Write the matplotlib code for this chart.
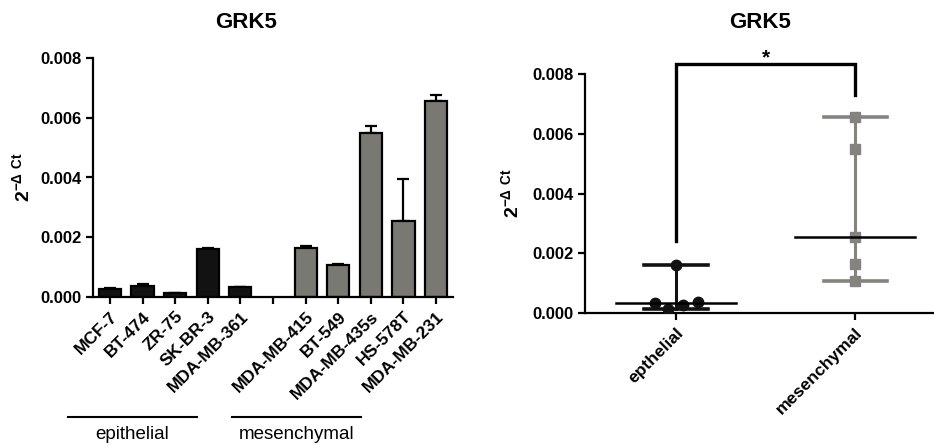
"""GRK5 expression across breast cancer cell lines: per-line bars and a grouped dot plot."""
import matplotlib
matplotlib.use("Agg")
import matplotlib.pyplot as plt
import matplotlib.transforms as mtransforms
import numpy as np

plt.rcParams["font.family"] = ["Liberation Sans", "DejaVu Sans"]
plt.rcParams["mathtext.fontset"] = "custom"
plt.rcParams["mathtext.rm"] = "Liberation Sans"
plt.rcParams["mathtext.bf"] = "Liberation Sans:bold"

# mean 2^-dCt per cell line, with SEM (upper bar only)
epi_lines = ["MCF-7", "BT-474", "ZR-75", "SK-BR-3", "MDA-MB-361"]
epi_vals = [0.00028, 0.00038, 0.00012, 0.00160, 0.00032]
epi_err = [0.00001, 0.00004, 0.00001, 0.00004, 0.00001]

mes_lines = ["MDA-MB-415", "BT-549", "MDA-MB-435s", "HS-578T", "MDA-MB-231"]
mes_vals = [0.00165, 0.00107, 0.00550, 0.00255, 0.00657]
mes_err = [0.00006, 0.00005, 0.00021, 0.00140, 0.00019]

group_names = ["epthelial", "mesenchymal"]
group_labels = ["epithelial", "mesenchymal"]
title = "GRK5"
ylabel = r"$\mathbf{2^{-\Delta\ Ct}}$"
yticks = [0.0, 0.002, 0.004, 0.006, 0.008]

EPI_C = "#121212"
MES_C = "#7a7872"
MES_DOT = "#858380"
LW = 1.6

fig = plt.figure(figsize=(9.34, 4.46), dpi=100)


def style_axis(ax, pad):
    for s in ("top", "right"):
        ax.spines[s].set_visible(False)
    for s in ("left", "bottom"):
        ax.spines[s].set_linewidth(LW)
    ax.tick_params(width=LW, length=5, labelsize=12)
    ax.set_ylim(0, 0.008)
    ax.set_yticks(yticks)
    ax.set_yticklabels([f"{t:.3f}" for t in yticks], fontweight="bold")
    ax.set_ylabel(ylabel, fontsize=14, labelpad=pad)


# ---- left: bar chart per cell line ----
ax1 = fig.add_axes([93 / 934, 149 / 446, 360 / 934, 239 / 446])
style_axis(ax1, 5)
epi_x = np.arange(len(epi_lines))
mes_x = np.arange(len(mes_lines)) + len(epi_lines) + 1
for xs, vals, errs, col in ((epi_x, epi_vals, epi_err, EPI_C),
                            (mes_x, mes_vals, mes_err, MES_C)):
    ax1.errorbar(xs, vals, yerr=[np.zeros(len(vals)), errs], fmt="none",
                 ecolor="black", elinewidth=LW, capsize=4.5, capthick=LW, zorder=1)
    ax1.bar(xs, vals, width=0.68, color=col, edgecolor="black", linewidth=LW, zorder=2)

all_x = np.arange(len(epi_lines) + len(mes_lines) + 1)
ax1.set_xticks(all_x)
ax1.set_xticklabels(epi_lines + [""] + mes_lines, rotation=45, ha="right",
                    rotation_mode="anchor", fontweight="bold", fontsize=12.5)
ax1.set_xlim(-0.52, all_x[-1] + 0.52)

# group underlines below the tick labels
trans = mtransforms.blended_transform_factory(ax1.transData, ax1.transAxes)
for (x0, x1), name in zip([(-1.28, 2.66), (3.73, 7.7)], group_labels):
    ax1.plot([x0, x1], [-0.502, -0.502], color="black", lw=1.5,
             transform=trans, clip_on=False)
    ax1.text((x0 + x1) / 2, -0.575, name, transform=trans, ha="center",
             va="center", fontsize=13.5)

fig.text(246 / 934, 1 - 23 / 446, title, ha="center", va="center",
         fontsize=16, fontweight="bold")

# ---- right: dot plot with median and range ----
ax2 = fig.add_axes([585 / 934, 133 / 446, 349 / 934, 239 / 446])
style_axis(ax2, 7)
ax2.set_xlim(-0.508, 1.44)
ax2.set_xticks([0, 1])
ax2.set_xticklabels(group_names, rotation=45, ha="right",
                    rotation_mode="anchor", fontweight="bold", fontsize=12.5)

epi_jitter = [0.04, 0.12, -0.045, 0.0, -0.12]
groups = [(0, epi_vals, epi_jitter, EPI_C, "o", 7.5),
          (1, mes_vals, [0.0] * len(mes_vals), MES_DOT, "s", 7)]
for gx, vals, jit, col, mk, ms in groups:
    lo, hi, med = min(vals), max(vals), float(np.median(vals))
    ax2.plot([gx, gx], [lo, hi], color=col, lw=2.2, zorder=2)
    for v in (lo, hi):
        ax2.plot([gx - 0.176, gx + 0.176], [v, v], color=col, lw=2.6, zorder=2)
    ax2.plot(gx + np.array(jit), vals, mk, color=col, ms=ms, zorder=3)
    ax2.plot([gx - 0.335, gx + 0.335], [med, med], color="black", lw=1.8, zorder=4)

# significance bracket
ax2.plot([0, 0, 1, 1], [0.0024, 0.00833, 0.00833, 0.0073], color="black",
         lw=2.4, clip_on=False, solid_joinstyle="miter")
ax2.text(0.5, 0.00855, "*", ha="center", va="center", fontsize=15,
         fontweight="bold", clip_on=False)

fig.text(760 / 934, 1 - 23 / 446, title, ha="center", va="center",
         fontsize=16, fontweight="bold")

fig.savefig("out.png", dpi=100)
